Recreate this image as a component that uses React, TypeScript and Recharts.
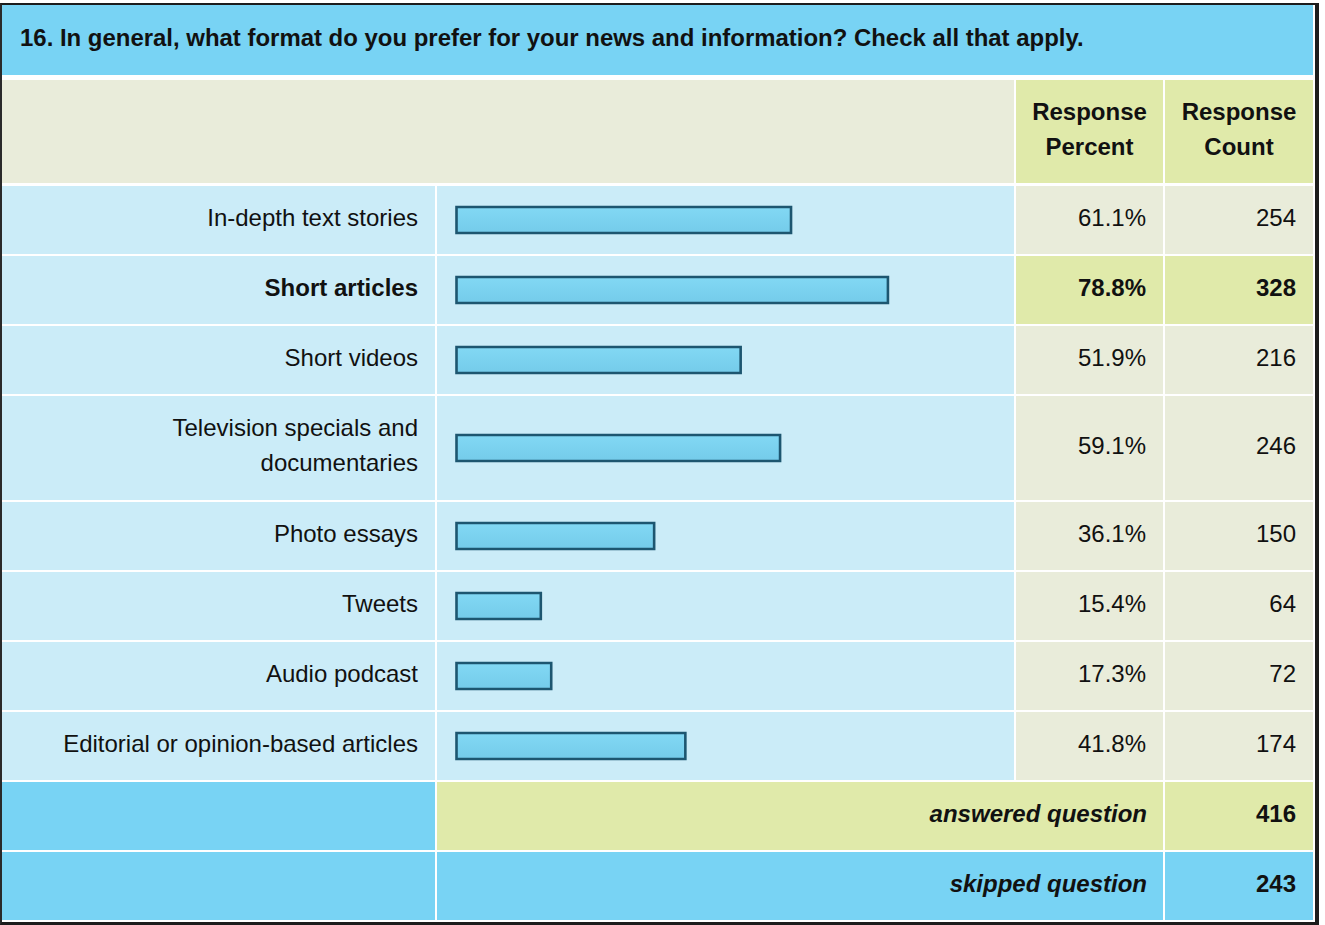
import React from "react";
import { BarChart, Bar, XAxis, YAxis } from "recharts";

const title =
  "16. In general, what format do you prefer for your news and information? Check all that apply.";
const categories = [
  "In-depth text stories",
  "Short articles",
  "Short videos",
  "Television specials and documentaries",
  "Photo essays",
  "Tweets",
  "Audio podcast",
  "Editorial or opinion-based articles",
];
const percents = [61.1, 78.8, 51.9, 59.1, 36.1, 15.4, 17.3, 41.8];
const counts = [254, 328, 216, 246, 150, 64, 72, 174];
const highlighted = [false, true, false, false, false, false, false, false];
const answeredLabel = "answered question";
const answeredCount = 416;
const skippedLabel = "skipped question";
const skippedCount = 243;

const FONT = '"Liberation Sans", Arial, Helvetica, sans-serif';
const SKY = "#78d3f4";
const BEIGE = "#e9ecda";
const LIME = "#e0eaaa";
const LIGHT = "#cbecf8";

const COLX = [2, 437, 1016, 1165];
const COLW = [433, 577, 147, 148];
const GAP = 2;
const ROW_TOP = 186;
const rowHeights = [68, 68, 68, 104, 68, 68, 68, 68];

function Cell(props: {
  x: number;
  y: number;
  w: number;
  h: number;
  bg: string;
  align?: "left" | "right" | "center";
  bold?: boolean;
  italic?: boolean;
  children?: React.ReactNode;
  pr?: number;
  pl?: number;
  fs?: number;
}) {
  const { x, y, w, h, bg, align = "right", bold, italic, children, pr = 17, pl = 0, fs = 24 } = props;
  return (
    <div
      style={{
        position: "absolute",
        left: x,
        top: y,
        width: w,
        height: h,
        background: bg,
        display: "flex",
        alignItems: "center",
        justifyContent:
          align === "right" ? "flex-end" : align === "center" ? "center" : "flex-start",
        boxSizing: "border-box",
        paddingRight: align === "right" ? pr : 0,
        paddingLeft: pl,
        fontFamily: FONT,
        fontSize: fs,
        fontWeight: bold ? "bold" : "normal",
        fontStyle: italic ? "italic" : "normal",
        color: "#111",
        lineHeight: "35px",
        textAlign: align,
        whiteSpace: "normal",
      }}
    >
      {children}
    </div>
  );
}

function RowBar({ name, value, height }: { name: string; value: number; height: number }) {
  const data = [{ name, value }];
  return (
    <BarChart
      width={COLW[1]}
      height={height}
      data={data}
      layout="vertical"
      margin={{ top: 0, right: 10, bottom: 0, left: 19.5 }}
    >
      <defs>
        <linearGradient id="barGrad" x1="0" y1="0" x2="0" y2="1">
          <stop offset="0%" stopColor="#82d8f4" />
          <stop offset="100%" stopColor="#74cbea" />
        </linearGradient>
      </defs>
      <XAxis type="number" domain={[0, 100]} hide />
      <YAxis type="category" dataKey="name" hide />
      <Bar
        dataKey="value"
        barSize={26}
        fill="url(#barGrad)"
        stroke="#1d5670"
        strokeWidth={2.6}
        isAnimationActive={false}
      />
    </BarChart>
  );
}

export default function App() {
  const rowTops: number[] = [];
  let y = ROW_TOP;
  for (const h of rowHeights) {
    rowTops.push(y);
    y += h + GAP;
  }
  const ansTop = y;
  const skipTop = y + 68 + GAP;

  return (
    <div style={{ position: "absolute", left: 0, top: 0, width: 1325, height: 925, background: "#fff" }}>
      <div
        style={{
          position: "absolute",
          left: 0,
          top: 3,
          width: 1319,
          height: 922,
          boxSizing: "border-box",
          borderTop: "2px solid #1c1c1c",
          borderLeft: "2px solid #2a2a2a",
          borderRight: "4px solid #1c1c1c",
          borderBottom: "3px solid #1c1c1c",
        }}
      />
      {/* title */}
      <Cell x={2} y={5} w={1311} h={70} bg={SKY} align="left" bold pl={18} fs={23.95}>
        <span style={{ position: "relative", top: -3 }}>{title}</span>
      </Cell>
      {/* header */}
      <Cell x={2} y={80} w={1012} h={103} bg={BEIGE} />
      <Cell x={COLX[2]} y={80} w={COLW[2]} h={103} bg={LIME} align="center" bold>
        <span style={{ position: "relative", top: -3 }}>Response<br />Percent</span>
      </Cell>
      <Cell x={COLX[3]} y={80} w={COLW[3]} h={103} bg={LIME} align="center" bold>
        <span style={{ position: "relative", top: -3 }}>Response<br />Count</span>
      </Cell>
      {categories.map((c, i) => {
        const t = rowTops[i];
        const h = rowHeights[i];
        const hl = highlighted[i];
        return (
          <React.Fragment key={c}>
            <Cell x={COLX[0]} y={t} w={COLW[0]} h={h} bg={LIGHT} bold={hl}>
              <span style={{ maxWidth: 380, position: "relative", top: -3 }}>{c}</span>
            </Cell>
            <div
              style={{
                position: "absolute",
                left: COLX[1],
                top: t,
                width: COLW[1],
                height: h,
                background: LIGHT,
              }}
            >
              <RowBar name={c} value={percents[i]} height={h} />
            </div>
            <Cell x={COLX[2]} y={t} w={COLW[2]} h={h} bg={hl ? LIME : BEIGE} bold={hl}>
              <span style={{ position: "relative", top: -3 }}>{percents[i].toFixed(1)}%</span>
            </Cell>
            <Cell x={COLX[3]} y={t} w={COLW[3]} h={h} bg={hl ? LIME : BEIGE} bold={hl}>
              <span style={{ position: "relative", top: -3 }}>{counts[i]}</span>
            </Cell>
          </React.Fragment>
        );
      })}
      {/* answered */}
      <Cell x={COLX[0]} y={ansTop} w={COLW[0]} h={68} bg={SKY} />
      <Cell x={COLX[1]} y={ansTop} w={COLW[1] + GAP + COLW[2]} h={68} bg={LIME} bold italic pr={16}>
        <span style={{ position: "relative", top: -3 }}>{answeredLabel}</span>
      </Cell>
      <Cell x={COLX[3]} y={ansTop} w={COLW[3]} h={68} bg={LIME} bold>
        <span style={{ position: "relative", top: -3 }}>{answeredCount}</span>
      </Cell>
      {/* skipped */}
      <Cell x={COLX[0]} y={skipTop} w={COLW[0]} h={68} bg={SKY} />
      <Cell x={COLX[1]} y={skipTop} w={COLW[1] + GAP + COLW[2]} h={68} bg={SKY} bold italic pr={16}>
        <span style={{ position: "relative", top: -3 }}>{skippedLabel}</span>
      </Cell>
      <Cell x={COLX[3]} y={skipTop} w={COLW[3]} h={68} bg={SKY} bold>
        <span style={{ position: "relative", top: -3 }}>{skippedCount}</span>
      </Cell>
    </div>
  );
}
